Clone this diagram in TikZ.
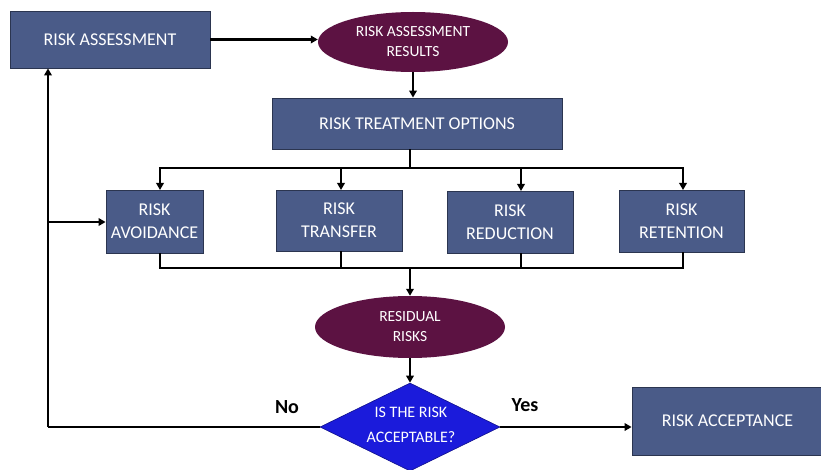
\documentclass[tikz,border=0pt]{standalone}
\usepackage{fontspec}
\setmainfont{Carlito}
\usetikzlibrary{arrows.meta,shapes.geometric}
\definecolor{boxfill}{HTML}{4A5B88}
\definecolor{boxline}{HTML}{2B3550}
\definecolor{ovalfill}{HTML}{5C1242}
\definecolor{diafill}{HTML}{1B1BDB}
\definecolor{dialine}{HTML}{10108A}
\tikzset{
  stepbox/.style={draw=boxline, line width=0.8pt, fill=boxfill, text=white,
    align=center, inner sep=0pt, font=\fontsize{18}{23}\selectfont},
  oval/.style={ellipse, fill=ovalfill, text=white, align=center, inner sep=0pt,
    font=\fontsize{15.5}{20}\selectfont},
  decision/.style={diamond, fill=diafill, draw=dialine, line width=0.6pt,
    inner sep=0pt},
  decisiontext/.style={text=white, align=center, inner sep=0pt,
    font=\fontsize{16}{25}\selectfont},
  flow/.style={line width=2.4pt, -{Triangle[length=7pt,width=7.5pt]}},
  wire/.style={line width=2.4pt},
  answer/.style={font=\bfseries\fontsize{20}{22}\selectfont}
}
\begin{document}
\begin{tikzpicture}[x=1pt,y=-1pt]
\useasboundingbox (0,0) rectangle (821,470);

% boxes and ovals
\node[stepbox, minimum width=200pt, minimum height=57pt] (ra) at (110,39.5) {RISK ASSESSMENT};
\node[oval, minimum width=190pt, minimum height=60pt] (rar) at (413,42) {RISK ASSESSMENT\\RESULTS};
\node[stepbox, minimum width=290pt, minimum height=51pt] (rto) at (417,123.5) {RISK TREATMENT OPTIONS};
\node[stepbox, minimum width=97pt, minimum height=63pt] (av) at (154.5,221.5) {RISK\\AVOIDANCE};
\node[stepbox, minimum width=126pt, minimum height=61pt] (tr) at (339,220.5) {RISK\\TRANSFER};
\node[stepbox, minimum width=126pt, minimum height=62pt] (rd) at (510,222) {RISK\\REDUCTION};
\node[stepbox, minimum width=125pt, minimum height=62pt] (rt) at (681.5,221) {RISK\\RETENTION};
\node[oval, minimum width=190pt, minimum height=62pt] (res) at (410,327) {RESIDUAL\\RISKS};
\node[decision, minimum width=180pt, minimum height=88pt] (acc) at (410,427) {};
\node[decisiontext] (acctext) at (411,425) {IS THE RISK\\ACCEPTABLE?};
\node[stepbox, minimum width=191pt, minimum height=68pt] (ok) at (727.5,421) {RISK ACCEPTANCE};

% junction points
\coordinate (split) at (410,168);
\coordinate (join) at (410,268);
\coordinate (back) at (48,427);
\coordinate (tap) at (48,222);

% main flow
\draw[flow] (ra.east) -- (ra.east -| rar.west);
\draw[flow] (rar.south) -- (rar.south |- rto.north);
\draw[wire] (rto.south -| split) -- (split);
\draw[wire] (158.8,168) -- (684.2,168);
\draw[flow] (160,168) -- (160,190);
\draw[flow] (341,168) -- (341,190);
\draw[flow] (521,168) -- (521,191);
\draw[flow] (683,168) -- (683,190);

\draw[wire] (160,253) -- (160,268);
\draw[wire] (341,251) -- (341,268);
\draw[wire] (521,253) -- (521,268);
\draw[wire] (683,252) -- (683,268);
\draw[wire] (158.8,268) -- (684.2,268);
\draw[flow] (join) -- (res.north);
\draw[flow] (res.south) -- (acc.north);

% decision outcomes
\draw[flow] (acc.east) -- (acc.east -| ok.west);
\draw[wire] (acc.west) -- (back);
\draw[flow] (back) -- (back |- ra.south);
\draw[flow] (tap) -- (av.west |- tap);

\node[answer] (no) at (287,407) {No};
\node[answer] (yes) at (525,405) {Yes};
\end{tikzpicture}
\end{document}
